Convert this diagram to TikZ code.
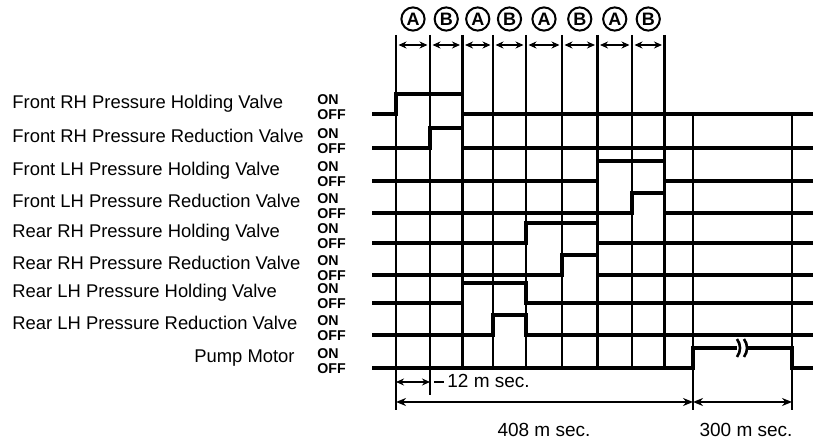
\documentclass[tikz,border=0pt]{standalone}
\usepackage{fontspec}
\setmainfont{Liberation Sans}
\usetikzlibrary{arrows.meta}
\begin{document}
\begin{tikzpicture}[x=0.5pt,y=-0.5pt,
  sig/.style={line width=1.6pt, line join=miter},
  gridline/.style={line width=1.05pt},
  lbl/.style={anchor=base west, inner sep=0pt, font=\fontsize{9.2pt}{10pt}\selectfont},
  lblr/.style={anchor=base east, inner sep=0pt, font=\fontsize{9.2pt}{10pt}\selectfont},
  onoff/.style={anchor=base west, inner sep=0pt, font=\fontsize{7.1pt}{7pt}\selectfont\bfseries},
  dimarrow/.style={line width=0.9pt, {Stealth[length=5pt,width=4pt]}-{Stealth[length=5pt,width=4pt]}},
  smallarrow/.style={line width=0.9pt, {Stealth[length=4pt,width=3.5pt]}-{Stealth[length=4pt,width=3.5pt]}},
  circ/.style={circle, draw, line width=1pt, minimum size=11.6pt, inner sep=0pt, font=\fontsize{9pt}{8pt}\selectfont\bfseries},
  dimtxt/.style={inner sep=0pt, font=\fontsize{9.5pt}{10pt}\selectfont}
]
\useasboundingbox (0,0) rectangle (813,442);

% grid lines
\foreach \x/\n in {462.5/c,493/d,526/e,562/f,597.5/g,632/h,664.5/i}{
  \coordinate (top\n) at (\x,35);
  \coordinate (bot\n) at (\x,368);
  \draw[gridline] (top\n) -- (bot\n);
}
\coordinate (topa) at (396,35);
\coordinate (bota) at (396,410);
\coordinate (topb) at (430,35);
\coordinate (botb) at (430,395);
\draw[gridline] (topa) -- (bota);
\draw[gridline] (topb) -- (botb);
\coordinate (topj) at (693,114);
\coordinate (botj) at (693,410);
\coordinate (topk) at (792,114);
\coordinate (botk) at (792,410);
\draw[gridline] (topj) -- (botj);
\draw[gridline] (topk) -- (botk);

% header arrows and circled labels
\foreach \xa/\xb/\t/\n in {396/430/A/1,430/462.5/B/2,462.5/493/A/3,493/526/B/4,526/562/A/5,562/597.5/B/6,597.5/632/A/7,632/664.5/B/8}{
  \coordinate (hl\n) at (\xa+2.5,45);
  \coordinate (hr\n) at (\xb-2.5,45);
  \draw[smallarrow] (hl\n) -- (hr\n);
  \node[circ] (c\n) at ({(\xa+\xb)/2},19) {\t};
}

% signals
\foreach \y/\xa/\xb/\t/\n in {
  114/396/462.5/Front RH Pressure Holding Valve/1,
  148/430/462.5/Front RH Pressure Reduction Valve/2,
  181/597.5/664.5/Front LH Pressure Holding Valve/3,
  213/632/664.5/Front LH Pressure Reduction Valve/4,
  243/526/597.5/Rear RH Pressure Holding Valve/5,
  275/562/597.5/Rear RH Pressure Reduction Valve/6,
  303/462.5/526/Rear LH Pressure Holding Valve/7,
  335/493/526/Rear LH Pressure Reduction Valve/8}{
  \draw[sig] (372,\y) -- (\xa,\y) -- (\xa,\y-20) -- (\xb,\y-20) -- (\xb,\y) -- (813,\y);
  \node[lbl] (l\n) at (12,\y-5.5) {\t};
  \node[onoff] (on\n) at (317,\y-9) {ON};
  \node[onoff] (off\n) at (317,\y+6) {OFF};
}
% pump motor
\draw[sig] (372,368) -- (693,368) -- (693,348) -- (737,348);
\draw[sig] (747,348) -- (792,348) -- (792,368) -- (813,368);
\draw[line width=1.3pt] (737,339) to[bend left=35] (737,357);
\draw[line width=1.3pt] (744,339) to[bend left=35] (744,357);
\node[lblr] (l9) at (295,362.5) {Pump Motor};
\node[onoff] (on9) at (317,359) {ON};
\node[onoff] (off9) at (317,374) {OFF};

% dimensions
\coordinate (d12a) at (396,382);
\coordinate (d12b) at (430,382);
\draw[smallarrow] (d12a) -- (d12b);
\coordinate (lead1) at (434,382);
\coordinate (lead2) at (444,382);
\draw[line width=1pt] (lead1) -- (lead2);
\node[dimtxt, anchor=west] (t12) at (447,381) {12 m sec.};

\coordinate (d408a) at (396,402);
\coordinate (d408b) at (693,402);
\draw[dimarrow] (d408a) -- (d408b);
\node[dimtxt] (t408) at (544,430) {408 m sec.};

\coordinate (d300a) at (693,402);
\coordinate (d300b) at (792,402);
\draw[dimarrow] (d300a) -- (d300b);
\node[dimtxt] (t300) at (746,430) {300 m sec.};
\end{tikzpicture}
\end{document}
